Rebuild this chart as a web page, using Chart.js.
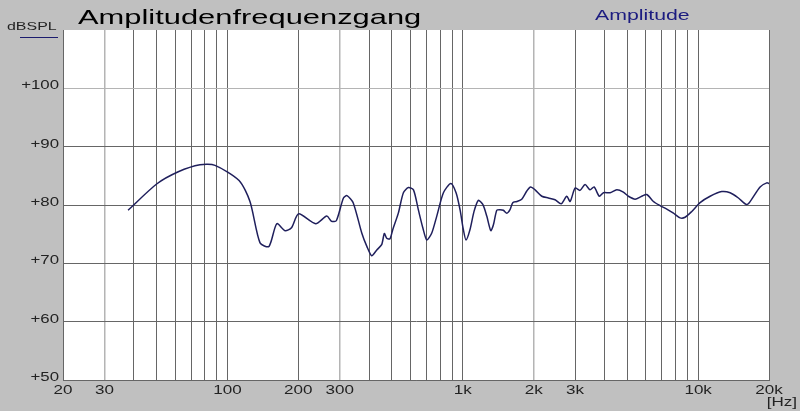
<!DOCTYPE html>
<html>
<head>
<meta charset="utf-8">
<script src="https://cdn.jsdelivr.net/npm/chart.js@4/dist/chart.umd.min.js"></script>
<style>
  html, body { margin: 0; padding: 0; background: #c0c0c0; }
  #wrap { width: 800px; height: 411px; position: relative; }
</style>
</head>
<body>
<div id="wrap"><canvas id="fr-chart"></canvas></div>
<script>
// frequency (Hz) and level (dB SPL)
const freqs = [
  37.8, 50, 61.8, 76.4, 88.5, 112, 124.6, 137.5, 150, 162,
  175.6, 187, 200.6, 237, 264, 277, 290, 311, 322, 342,
  372, 391, 410, 431, 452, 464, 475, 490, 504, 532,
  559, 587, 617, 647, 676, 703, 738, 775, 827, 889,
  936, 973, 1005, 1032, 1073, 1116, 1164, 1216, 1264, 1315,
  1349, 1394, 1439, 1487, 1538, 1587, 1630, 1695, 1780, 1870,
  1940, 2028, 2166, 2310, 2466, 2616, 2765, 2857, 3000, 3148,
  3307, 3473, 3611, 3803, 3958, 4224, 4511, 4810, 5052, 5397,
  5760, 6050, 6455, 6889, 7357, 7853, 8380, 8800, 9397, 10190,
  11240, 12600, 13670, 14830, 15990, 16490, 18330, 19570, 20000,
];
const spl = [
  79.1, 83.6, 85.7, 86.9, 86.8, 84.2, 80.6, 73.5, 72.9, 76.8,
  75.6, 76.1, 78.5, 76.8, 78.1, 77.2, 77.3, 81.2, 81.6, 80.4,
  75.2, 72.9, 71.3, 72.3, 73.2, 75.1, 74.3, 74.2, 75.8, 78.6,
  82.1, 83.0, 82.6, 79.2, 76.1, 74.0, 75.2, 78.1, 82.1, 83.7,
  82.1, 79.2, 75.8, 74.0, 75.8, 78.9, 80.8, 80.1, 78.1, 75.6,
  76.6, 79.1, 79.2, 79.1, 78.6, 79.2, 80.4, 80.6, 81.0, 82.4,
  83.1, 82.6, 81.5, 81.2, 80.9, 80.2, 81.5, 80.6, 82.9, 82.5,
  83.5, 82.6, 83.1, 81.5, 82.1, 82.1, 82.6, 82.2, 81.5, 81.0,
  81.5, 81.8, 80.6, 79.9, 79.3, 78.6, 77.8, 77.9, 78.9, 80.4,
  81.5, 82.3, 82.1, 81.2, 80.1, 80.4, 83.1, 83.8, 83.7,
];

// vertical grid lines and the ones that get a label
const gridFreqs = [
  20, 30, 40, 50, 60, 70, 80, 90,
  100, 200, 300, 400, 500, 600, 700, 800, 900,
  1000, 2000, 3000, 4000, 5000, 6000, 7000, 8000, 9000,
  10000, 20000,
];
const xLabels = [20, 30, 100, 200, 300, 1000, 2000, 3000, 10000, 20000];
const xLabelText = ['20', '30', '100', '200', '300', '1k', '2k', '3k', '10k', '20k'];
const yLabels = [50, 60, 70, 80, 90, 100];
const lightX = [30, 300, 2000];

const FONT = '"Liberation Sans", Arial, sans-serif';

function stretchText(ctx, text, x, y, size, color, sx, align) {
  ctx.save();
  ctx.font = size + 'px ' + FONT;
  ctx.fillStyle = color;
  ctx.textAlign = align;
  ctx.textBaseline = 'alphabetic';
  ctx.translate(x, y);
  ctx.scale(sx, 1);
  ctx.fillText(text, 0, 0);
  ctx.restore();
}

const plotBg = {
  id: 'plotBg',
  beforeDraw(chart) {
    const { ctx, chartArea: a } = chart;
    ctx.save();
    ctx.fillStyle = '#ffffff';
    ctx.fillRect(a.left, a.top, a.right - a.left, a.bottom - a.top);
    ctx.restore();
  },
};

const labels = {
  id: 'labels',
  afterDraw(chart) {
    const ctx = chart.ctx;
    const xs = chart.scales.x, ys = chart.scales.y;

    stretchText(ctx, 'Amplitudenfrequenzgang', 78, 24, 21, '#000', 1.47, 'left');
    stretchText(ctx, 'dBSPL', 7, 30, 11, '#222', 1.45, 'left');
    ctx.save();
    ctx.strokeStyle = '#1c1c6e';
    ctx.lineWidth = 1;
    ctx.beginPath();
    ctx.moveTo(20, 37.5);
    ctx.lineTo(58, 37.5);
    ctx.stroke();
    ctx.restore();
    stretchText(ctx, 'Amplitude', 595, 20, 15, '#1c1c80', 1.42, 'left');

    xLabels.forEach((v, i) => {
      stretchText(ctx, xLabelText[i], xs.getPixelForValue(v), 394, 12, '#222', 1.42, 'center');
    });
    stretchText(ctx, '[Hz]', 797, 406, 12, '#222', 1.42, 'right');

    yLabels.forEach(v => {
      stretchText(ctx, '+' + v, 59, ys.getPixelForValue(v) + 1, 12, '#222', 1.4, 'right');
    });
  },
};

const data = {
  datasets: [
    {
      label: 'Amplitude',
      data: freqs.map((f, i) => ({ x: f, y: spl[i] })),
      borderColor: '#1f1f5c',
      borderWidth: 1.5,
      pointRadius: 0,
      tension: 0.25,
      fill: false,
    },
  ],
};

const config = {
  type: 'line',
  data: data,
  options: {
    responsive: false,
    animation: false,
    layout: {
      padding: { left: 0, top: 30, right: 31, bottom: 0 },
    },
    scales: {
      x: {
        type: 'logarithmic',
        min: 20,
        max: 20000,
        afterBuildTicks: scale => {
          scale.ticks = gridFreqs.map(v => ({ value: v }));
        },
        afterFit: scale => { scale.height = 31; },
        ticks: { display: false },
        grid: {
          drawTicks: false,
          color: ctx => lightX.includes(ctx.tick.value) ? '#b4b4b4' : '#666666',
          lineWidth: ctx => lightX.includes(ctx.tick.value) ? 1.5 : 1,
        },
        border: { color: '#666666' },
      },
      y: {
        min: 50,
        max: 110,
        ticks: { display: false, stepSize: 10 },
        afterFit: scale => { scale.width = 63; },
        grid: {
          drawTicks: false,
          color: ctx => ctx.tick.value === 110 ? 'rgba(0,0,0,0)'
            : ctx.tick.value === 100 ? '#b4b4b4' : '#666666',
        },
        border: { color: '#666666' },
      },
    },
    plugins: {
      legend: { display: false },
      tooltip: { enabled: false },
    },
  },
  plugins: [plotBg, labels],
};

const canvas = document.getElementById('fr-chart');
canvas.width = 800;
canvas.height = 411;
new Chart(canvas, config);
</script>
</body>
</html>
